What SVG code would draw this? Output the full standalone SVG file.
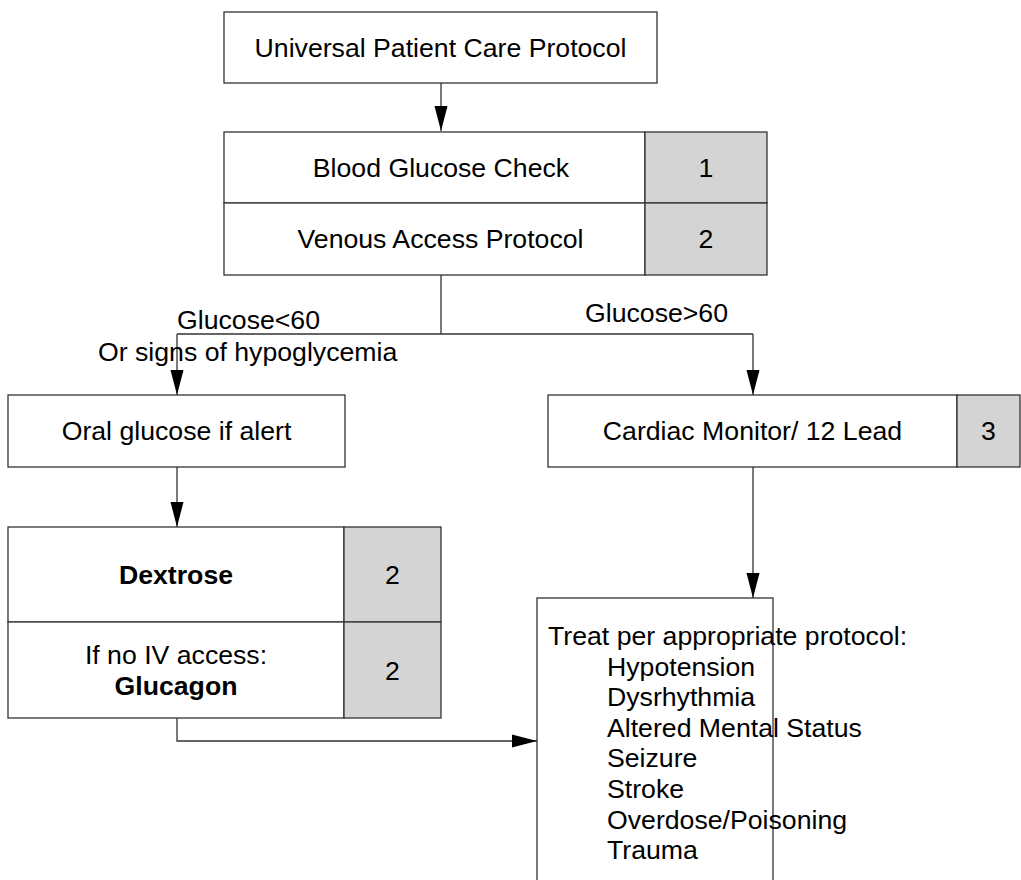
<svg xmlns="http://www.w3.org/2000/svg" width="1021" height="880" viewBox="0 0 1021 880">
<style>
text{font-family:"Liberation Sans",Arial,sans-serif;font-size:26.67px;fill:#000}
.c{text-anchor:middle}
.b{font-weight:bold}
.box{fill:#fff;stroke:#333;stroke-width:1.3}
.num{fill:#d4d4d4;stroke:#333;stroke-width:1.3}
.ln{fill:none;stroke:#333;stroke-width:1.3}
.ah{fill:#000}
</style>
<g id="connectors">
<path class="ln" d="M441,83 V131"/>
<polygon class="ah" points="434.5,106 447.5,106 441,131"/>
<path class="ln" d="M441,275 V334 M177,334 H753"/>
<path class="ln" d="M177,334 V395"/>
<polygon class="ah" points="170.5,370 183.5,370 177,395"/>
<path class="ln" d="M753,334 V395"/>
<polygon class="ah" points="746.5,370 759.5,370 753,395"/>
<path class="ln" d="M177,467 V527"/>
<polygon class="ah" points="170.5,502 183.5,502 177,527"/>
<path class="ln" d="M753,467 V598"/>
<polygon class="ah" points="746.5,573 759.5,573 753,598"/>
<path class="ln" d="M177,718 V741 H537"/>
<polygon class="ah" points="512,734.5 512,747.5 537,741"/>
<text x="177" y="329">Glucose&lt;60</text>
<text x="98" y="361">Or signs of hypoglycemia</text>
<text x="585" y="322">Glucose&gt;60</text>
</g>
<g id="n-universal">
<rect class="box" x="224" y="12" width="433" height="71"/>
<text class="c" x="440.5" y="57">Universal Patient Care Protocol</text>
</g>
<g id="n-bgcheck">
<rect class="box" x="224" y="132" width="421" height="71"/>
<rect class="num" x="645" y="132" width="122" height="71"/>
<text class="c" x="441" y="177">Blood Glucose Check</text>
<text class="c" x="706" y="177">1</text>
</g>
<g id="n-venous">
<rect class="box" x="224" y="203" width="421" height="72"/>
<rect class="num" x="645" y="203" width="122" height="72"/>
<text class="c" x="440.5" y="248">Venous Access Protocol</text>
<text class="c" x="706" y="248">2</text>
</g>
<g id="n-oral">
<rect class="box" x="8" y="395" width="337" height="72"/>
<text class="c" x="176.5" y="440">Oral glucose if alert</text>
</g>
<g id="n-cardiac">
<rect class="box" x="548" y="395" width="409" height="72"/>
<rect class="num" x="957" y="395" width="63" height="72"/>
<text class="c" x="752.5" y="440">Cardiac Monitor/ 12 Lead</text>
<text class="c" x="988.5" y="440">3</text>
</g>
<g id="n-dextrose">
<rect class="box" x="8" y="527" width="336" height="95"/>
<rect class="num" x="344" y="527" width="97" height="95"/>
<text class="c b" x="176" y="584">Dextrose</text>
<text class="c" x="392.5" y="584">2</text>
</g>
<g id="n-glucagon">
<rect class="box" x="8" y="622" width="336" height="96"/>
<rect class="num" x="344" y="622" width="97" height="96"/>
<text class="c" x="176" y="664">If no IV access:</text>
<text class="c b" x="176" y="695">Glucagon</text>
<text class="c" x="392.5" y="680">2</text>
</g>
<g id="n-treat">
<rect class="box" x="537" y="598" width="236" height="290"/>
<text x="548" y="645">Treat per appropriate protocol:</text>
<text x="607" y="675.6">Hypotension</text>
<text x="607" y="706.2">Dysrhythmia</text>
<text x="607" y="736.8">Altered Mental Status</text>
<text x="607" y="767.4">Seizure</text>
<text x="607" y="798">Stroke</text>
<text x="607" y="828.6">Overdose/Poisoning</text>
<text x="607" y="859.2">Trauma</text>
</g>
</svg>
